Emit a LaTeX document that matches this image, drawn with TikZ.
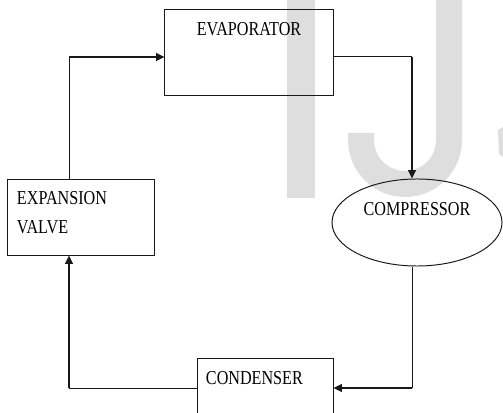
\documentclass[tikz,border=0pt]{standalone}
\usepackage{fontspec}
\setmainfont{Liberation Serif}[FakeStretch=0.82]
\usepackage{tikz}
\usetikzlibrary{positioning,arrows.meta,calc,shapes.geometric}
\usepackage{xcolor}
\definecolor{wmgray}{RGB}{222,222,222}
\definecolor{ink}{RGB}{25,25,25}
\tikzset{
unit/.style={draw=ink,line width=0.7pt,rectangle,inner ysep=0pt,font=\fontsize{14}{20}\selectfont},
flowthin/.style={draw=ink,line width=0.7pt},
flowthick/.style={draw=ink,line width=1.7pt,-{Triangle[length=6pt,width=5.5pt]}},
}

\begin{document}
\begin{tikzpicture}[x=0.025cm,y=0.025cm]
\useasboundingbox (0,0) rectangle (503,412);
% watermark letters behind the cycle
\fill[wmgray] (287,412) rectangle (315,214);
\fill[wmgray] (436,412) -- (462,412) -- (462,272) arc[start angle=0,end angle=-180,radius=57]
  -- (348,279) -- (374,279) -- (374,272) arc[start angle=180,end angle=360,radius=31] -- cycle;
\fill[wmgray] (498,282) -- (503,285) -- (503,255) -- (499,258) -- cycle;
% the four units
\node[unit,text width=4.2cm,align=center,inner xsep=0pt,text height=0.65cm,text depth=1.475cm]
  (evap) at (249,359.5) {EVAPORATOR};
\node[unit,text width=3.2cm,align=left,inner xsep=0.225cm,text height=0.625cm,text depth=1.25cm]
  (exp) at (81,194.5) {EXPANSION\\VALVE};
\node[unit,ellipse,inner sep=0pt,minimum width=4.25cm,minimum height=2.175cm,text height=0.35cm,text depth=0.675cm]
  (comp) at (417,189.5) {COMPRESSOR};
\node[unit,text width=2.975cm,align=left,inner xsep=0.2cm,text height=0.65cm,text depth=1.35cm]
  (cond) at (265.5,13) {CONDENSER};
% corners of the loop
\coordinate (c1) at (69,355);
\coordinate (c2) at (412,355);
\coordinate (c3) at (412,24);
\coordinate (c4) at (69,24);
\draw[flowthin] (c1 |- exp.north) -- (c1);
\draw[flowthick] (c1) -- (c1 -| evap.west);
\draw[flowthin] (c2 -| evap.east) -- (c2);
\draw[flowthick] (c2) -- (c2 |- comp.north);
\draw[flowthin] (c3 |- comp.south) -- (c3);
\draw[flowthick] (c3) -- (c3 -| cond.east);
\draw[flowthin] (c4 -| cond.west) -- (c4);
\draw[flowthick] (c4) -- (c4 |- exp.south);
\end{tikzpicture}
\end{document}
